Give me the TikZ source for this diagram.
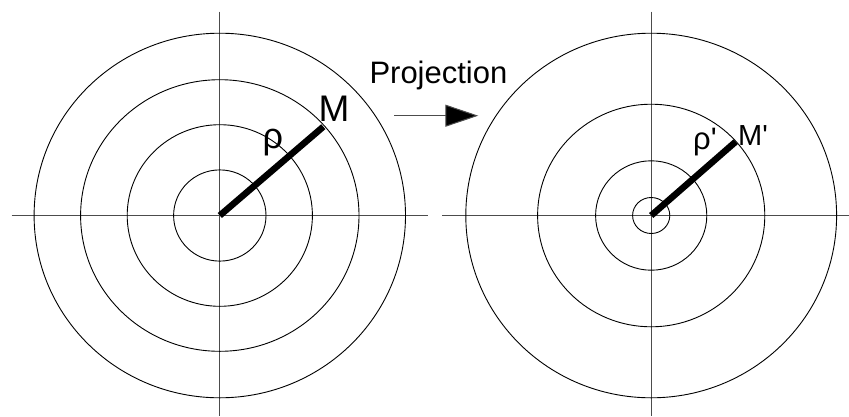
\documentclass[tikz,border=0pt]{standalone}
\usepackage{fontspec}
\newfontfamily\lsans{Liberation Sans}
\usetikzlibrary{arrows.meta}
\begin{document}
\begin{tikzpicture}[x=1pt,y=-1pt,
  axis/.style={draw=black!70,line width=1pt},
  ring/.style={draw=black,line width=0.9pt},
  radius line/.style={draw=black,line width=6.5pt},
  lbl/.style={anchor=base west,inner sep=0pt,font=\lsans},
  proj arrow/.style={draw=black!70,line width=1pt,-{Triangle[length=33pt,width=22pt,fill=black]}}]
\useasboundingbox (0,0) rectangle (849,416);
% centres
\coordinate (L) at (219.8,215.5);
\coordinate (R) at (651.2,215.5);
% axes ends
\coordinate (Lw) at (11.5,215.5);
\coordinate (Le) at (428,215.5);
\coordinate (Ln) at (219.8,11.5);
\coordinate (Ls) at (219.8,416);
\coordinate (Rw) at (442,215.5);
\coordinate (Re) at (849,215.5);
\coordinate (Rn) at (651.2,11.5);
\coordinate (Rs) at (651.2,416);
% axes
\draw[axis] (Lw) -- (Le);
\draw[axis] (Ln) -- (Ls);
\draw[axis] (Rw) -- (Re);
\draw[axis] (Rn) -- (Rs);
% left rings
\draw[ring] (L) ellipse [x radius=46.2, y radius=45.6];
\draw[ring] (L) ellipse [x radius=92.6, y radius=90.8];
\draw[ring] (L) ellipse [x radius=139.2, y radius=135.8];
\draw[ring] (L) ellipse [x radius=185.7, y radius=182.3];
% right rings
\draw[ring] (R) ellipse [x radius=18.6, y radius=18];
\draw[ring] (R) ellipse [x radius=55.6, y radius=54.7];
\draw[ring] (R) ellipse [x radius=113.6, y radius=111.3];
\draw[ring] (R) ellipse [x radius=185.4, y radius=182.3];
% radius points
\coordinate (M) at (323.3,126.7);
\coordinate (Mp) at (735.7,141.7);
\draw[radius line] (L) -- (M);
\draw[radius line] (R) -- (Mp);
% labels
\node[lbl,font=\lsans\fontsize{37}{40}\selectfont] (mlab) at (318.5,121) {M};
\node[lbl,font=\lsans\fontsize{36}{40}\selectfont] (rholab) at (262.5,148) {ρ};
\node[lbl,font=\lsans\fontsize{29}{32}\selectfont] (mplab) at (738,145) {M'};
\node[lbl,font=\lsans\fontsize{31}{34}\selectfont] (rhoplab) at (693,149) {ρ'};
\node[lbl,font=\lsans\fontsize{31}{36}\selectfont] (proj) at (369.3,83.3) {Projection};
% arrow
\coordinate (A1) at (394,115.7);
\coordinate (A2) at (478.3,115.7);
\draw[proj arrow] (A1) -- (A2);
\end{tikzpicture}
\end{document}
